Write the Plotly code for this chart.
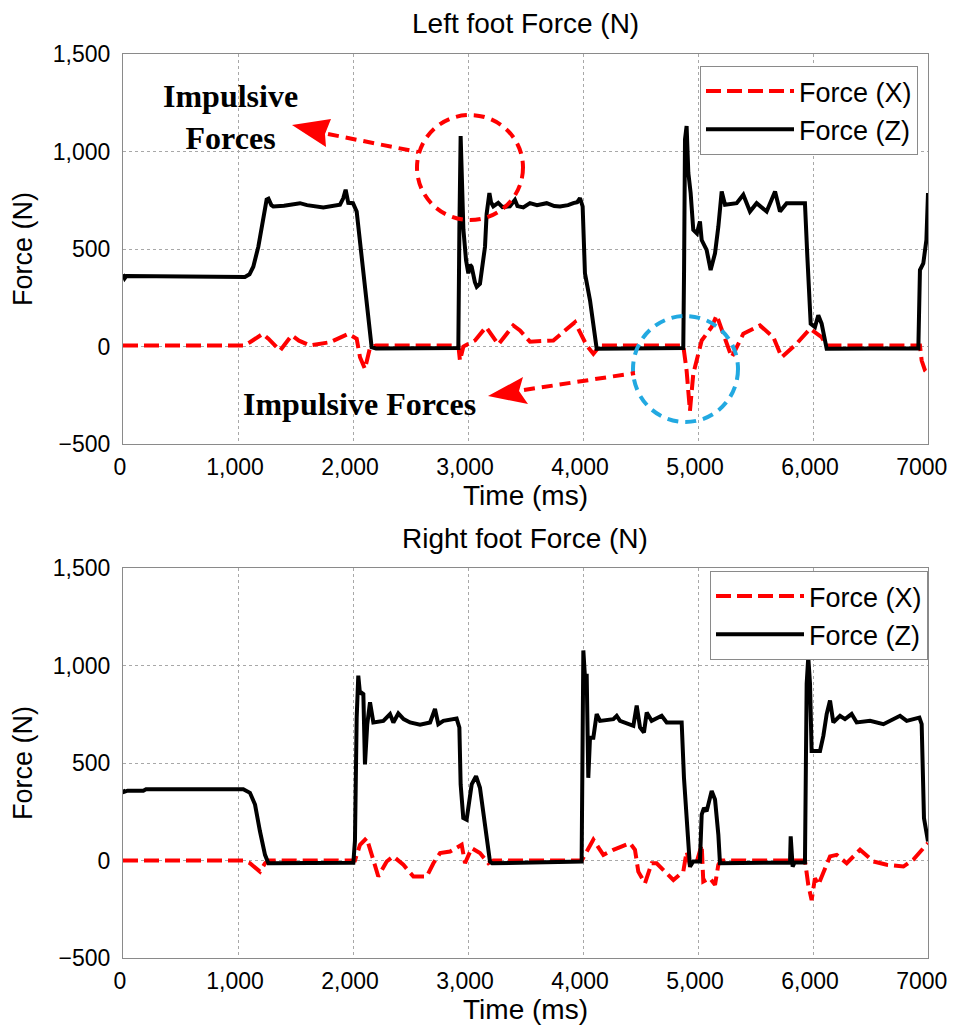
import plotly.graph_objects as go

# ---------------- data ----------------
left_z_t = [0, 15, 30, 1060, 1100, 1133, 1177, 1220, 1249, 1265, 1290, 1307, 1400, 1539, 1600, 1742, 1850, 1887,
            1915, 1936, 1959, 2000, 2032, 2061, 2104, 2162, 2200, 2500, 2700, 2916, 2925, 2936, 2945, 2960, 2983,
            3003, 3018, 3032, 3060, 3076, 3104, 3135, 3148, 3162, 3186, 3200, 3220, 3263, 3300, 3364, 3408, 3430,
            3481, 3539, 3600, 3684, 3750, 3800, 3870, 3916, 3950, 3974, 3997, 4017, 4061, 4119, 4300, 4600, 4872,
            4879, 4887, 4901, 4916, 4936, 4959, 4990, 5017, 5032, 5075, 5110, 5148, 5177, 5206, 5235, 5336, 5394,
            5452, 5510, 5597, 5670, 5713, 5771, 5858, 5930, 5951, 5980, 6017, 6046, 6075, 6119, 6500, 6916, 6930,
            6959, 6986, 7000]
left_z_v = [370, 350, 362, 357, 370, 409, 512, 667, 753, 758, 725, 718, 722, 735, 725, 713, 722, 727,
            760, 804, 737, 735, 692, 546, 289, -4, -10, -8, -10, -8, 600, 1079, 900, 600, 443,
            375, 420, 409, 330, 306, 322, 450, 512, 680, 787, 740, 719, 737, 715, 719, 752, 720,
            713, 735, 725, 735, 720, 718, 725, 735, 740, 761, 718, 375, 237, -12, -12, -10, -8,
            400, 1062, 1131, 890, 787, 598, 580, 641, 546, 495, 392, 478, 615, 795, 727, 735, 778,
            692, 735, 692, 795, 692, 735, 735, 735, 460, 117, 100, 160, 117, -12, -10, -10, 392,
            426, 546, 787]

left_x_t = [0, 1050, 1104, 1215, 1264, 1365, 1467, 1530, 1626, 1800, 1959, 2032, 2061, 2104, 2148, 2200, 2916,
            2930, 2960, 3061, 3157, 3264, 3394, 3452, 3539, 3742, 3930, 4032, 4090, 4148, 4872, 4901, 4930, 4959,
            5032, 5119, 5162, 5220, 5293, 5394, 5539, 5655, 5728, 5858, 5974, 6075, 6119, 6930, 6945, 6975, 7000]
left_x_v = [5, 5, 22, 65, 40, -21, 57, 30, 5, 22, 65, 40, -55, -115, -5, 5, 5,
            -72, 0, 31, 100, 10, 108, 82, 25, 31, 125, 5, -38, 5, 5, -124, -330, -140,
            31, 100, 160, 65, -55, 65, 108, 48, -55, 15, 91, 48, 5, 5, -72, -124, -140]

right_z_t = [0, 10, 40, 177, 200, 1046, 1104, 1148, 1191, 1235, 1264, 1500, 1700, 2003, 2017, 2032, 2046, 2061,
             2075, 2090, 2104, 2124, 2148, 2177, 2264, 2322, 2351, 2394, 2440, 2496, 2583, 2670, 2713, 2742, 2786,
             2901, 2925, 2936, 2959, 2988, 3032, 3070, 3104, 3148, 3191, 3210, 3500, 3988, 4003, 4017, 4032, 4046,
             4061, 4090, 4119, 4148, 4264, 4293, 4322, 4438, 4467, 4496, 4530, 4554, 4597, 4684, 4728, 4858, 4878,
             4901, 4930, 4959, 5017, 5032, 5052, 5075, 5119, 5148, 5177, 5191, 5500, 5800, 5806, 5823, 5840, 5930,
             5945, 5959, 5974, 5988, 6017, 6061, 6090, 6119, 6148, 6177, 6235, 6278, 6336, 6380, 6496, 6612, 6757,
             6815, 6925, 6945, 6965, 6983, 7000]
right_z_v = [364, 352, 358, 358, 365, 365, 347, 287, 150, 29, -14, -12, -14, -12, 100, 734, 948, 854,
             860, 854, 493, 699, 811, 708, 716, 751, 708, 754, 725, 708, 696, 708, 777, 699, 716,
             728, 682, 390, 218, 209, 390, 433, 373, 184, -5, -14, -10, -5, 1077, 940, 957, 424,
             630, 630, 751, 716, 725, 742, 716, 691, 794, 682, 656, 759, 716, 742, 708, 708, 424,
             184, -31, -5, -5, 235, 270, 252, 356, 313, 132, -14, -10, -10, 124, -31, -10, -10,
             906, 1043, 906, 562, 562, 562, 639, 751, 820, 708, 742, 725, 751, 708, 716, 699, 742,
             716, 733, 699, 218, 167, 98]

right_x_t = [0, 1046, 1104, 1191, 1235, 1264, 2017, 2061, 2119, 2177, 2220, 2293, 2351, 2438, 2525, 2641, 2699,
             2757, 2844, 2945, 2974, 3032, 3104, 3177, 3220, 3990, 4017, 4090, 4177, 4264, 4409, 4452, 4481, 4539,
             4597, 4640, 4713, 4786, 4872, 4901, 4930, 4990, 5032, 5046, 5104, 5148, 5177, 5200, 5930, 5959, 5988,
             6017, 6046, 6090, 6148, 6206, 6293, 6409, 6525, 6641, 6786, 6873, 6930, 6988, 7000]
right_x_v = [0, 0, -14, -57, -14, 0, 0, 81, 115, -5, -82, -5, 21, -22, -82, -82, -14,
             38, 46, 81, -14, 64, 38, -14, 0, 0, 29, 107, 29, 55, 89, 55, -57, -117,
             -14, -14, -57, -100, -57, 46, -22, -5, 81, -108, -91, -125, -22, 0, 0, -125, -203,
             -91, -125, -57, 21, 29, -14, 55, -5, -22, -31, 5, 46, 81, 90]

x_tickvals = [0, 1000, 2000, 3000, 4000, 5000, 6000, 7000]
# a trailing no-break space nudges the last label left so it is not clipped at the page edge
x_ticktext = ["0", "1,000", "2,000", "3,000", "4,000", "5,000", "6,000", "7000\u00a0"]
y_tickvals = [-500, 0, 500, 1000, 1500]
y_ticktext = ["\u2212500", "0", "500", "1,000", "1,500"]

titles = ["Left foot Force (N)", "Right foot Force (N)"]
series_names = ["Force (X)", "Force (Z)"]

# ---------------- layout helpers ----------------
# the page body adds an 8 px margin, so the figure is shrunk and shifted to fit the window
OFF = 8
W, H = 955 - OFF, 1027 - OFF
def px(x):
    return (x - OFF) / W
def py(y):
    return 1 - (y - OFF) / H

FONT = "Liberation Sans, Arial, sans-serif"
SERIF = "Liberation Serif, Times New Roman, serif"
RED = "#ff0000"
BLUE = "#22a9e1"
DASH = "15px,6px"

fig = go.Figure()

fig.add_trace(go.Scatter(x=left_x_t, y=left_x_v, mode="lines", name=series_names[0],
                         line=dict(color=RED, width=4, dash=DASH), xaxis="x", yaxis="y", legend="legend"))
fig.add_trace(go.Scatter(x=left_z_t, y=left_z_v, mode="lines", name=series_names[1],
                         line=dict(color="black", width=4), xaxis="x", yaxis="y", legend="legend"))
fig.add_trace(go.Scatter(x=right_x_t, y=right_x_v, mode="lines", name=series_names[0],
                         line=dict(color=RED, width=4, dash=DASH), xaxis="x2", yaxis="y2", legend="legend2"))
fig.add_trace(go.Scatter(x=right_z_t, y=right_z_v, mode="lines", name=series_names[1],
                         line=dict(color="black", width=4), xaxis="x2", yaxis="y2", legend="legend2"))

xdom = [px(123), px(928)]
ax_common = dict(showline=True, mirror=True, linecolor="#8a8a8a", linewidth=1,
                 showgrid=True, gridcolor="#a8a8a8", gridwidth=1, griddash="dot",
                 zeroline=False, ticks="", automargin=False,
                 tickfont=dict(family=FONT, size=23, color="black"))

xa = dict(ax_common, range=[0, 7000], tickmode="array", tickvals=x_tickvals, ticktext=x_ticktext,
          domain=xdom, ticklabelstandoff=2, ticklabelshift=-3, ticklabeloverflow="allow")
xtitle_font = dict(family=FONT, size=28, color="black")
ya = dict(ax_common, range=[-500, 1500], tickmode="array", tickvals=y_tickvals, ticktext=y_ticktext,
          ticklabelstandoff=7,
          title=dict(text="Force (N)", font=dict(family=FONT, size=27, color="black"), standoff=12))

leg_common = dict(xanchor="right", yanchor="top", bgcolor="white",
                  bordercolor="#8a8a8a", borderwidth=1, font=dict(family=FONT, size=27, color="black"),
                  itemwidth=88, tracegroupgap=0)

fig.update_layout(
    width=W, height=H, margin=dict(l=0, r=0, t=0, b=0),
    paper_bgcolor="white", plot_bgcolor="white",
    font=dict(family=FONT, color="black"),
    xaxis=dict(xa, anchor="y", title=dict(text="Time (ms)", font=xtitle_font, standoff=6)),
    yaxis=dict(ya, domain=[py(444), py(54)], anchor="x"),
    xaxis2=dict(xa, anchor="y2", title=dict(text="Time (ms)", font=xtitle_font, standoff=3)),
    yaxis2=dict(ya, domain=[py(958), py(568)], anchor="x2"),
    legend=dict(leg_common, x=px(918), y=py(66)),
    legend2=dict(leg_common, x=px(928), y=py(571)),
    showlegend=True,
)

annotations = [
    dict(text=titles[0], x=px(525), y=py(23), xref="paper", yref="paper", showarrow=False,
         font=dict(family=FONT, size=28, color="black"), xanchor="center", yanchor="middle"),
    dict(text=titles[1], x=px(525), y=py(538), xref="paper", yref="paper", showarrow=False,
         font=dict(family=FONT, size=28, color="black"), xanchor="center", yanchor="middle"),
    dict(text="Impulsive<br>Forces", x=px(230), y=py(117), xref="paper", yref="paper", showarrow=False,
         font=dict(family=SERIF, size=32, color="black", weight="bold"), xanchor="center", yanchor="middle"),
    dict(text="Impulsive Forces", x=px(359), y=py(404), xref="paper", yref="paper", showarrow=False,
         font=dict(family=SERIF, size=32, color="black", weight="bold"), xanchor="center", yanchor="middle"),
]
fig.update_layout(annotations=annotations)

def arrow_head(tip, corner1, notch, corner2):
    pts = [tip, corner1, notch, corner2]
    return "M " + " L ".join(f"{px(a):.5f},{py(b):.5f}" for a, b in pts) + " Z"

shapes = [
    # red dashed circle
    dict(type="circle", xref="paper", yref="paper", x0=px(417), x1=px(523), y0=py(220), y1=py(115),
         line=dict(color=RED, width=4, dash="11px,7px")),
    # red dashed connector to upper text
    dict(type="line", xref="paper", yref="paper", x0=px(328), y0=py(134), x1=px(418), y1=py(152),
         line=dict(color=RED, width=4, dash="11px,7px")),
    dict(type="path", xref="paper", yref="paper",
         path=arrow_head((292, 125), (331, 119), (325, 134), (326, 147)),
         fillcolor=RED, line=dict(width=0)),
    # blue dashed circle
    dict(type="circle", xref="paper", yref="paper", x0=px(633), x1=px(738), y0=py(422), y1=py(316),
         line=dict(color=BLUE, width=4, dash="11px,7px")),
    # red dashed connector to lower text
    dict(type="line", xref="paper", yref="paper", x0=px(524), y0=py(390), x1=px(635), y1=py(373),
         line=dict(color=RED, width=4, dash="11px,7px")),
    dict(type="path", xref="paper", yref="paper",
         path=arrow_head((488, 396), (523, 377), (519, 391), (528, 404)),
         fillcolor=RED, line=dict(width=0)),
]
fig.update_layout(shapes=shapes)

fig.write_html("out.html")
